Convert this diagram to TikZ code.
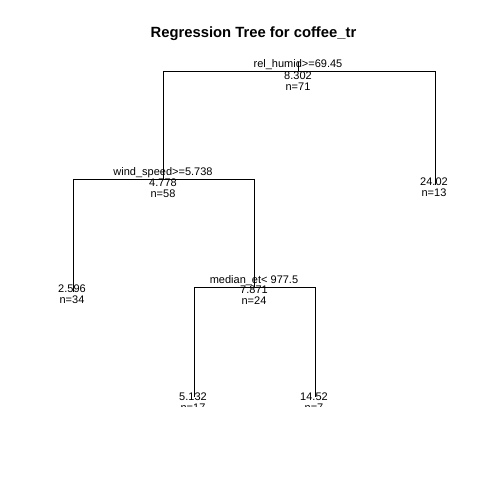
\documentclass[tikz,border=0pt]{standalone}
\usepackage{fontspec}
\setmainfont{Liberation Sans}
\begin{document}
\begin{tikzpicture}[x=1pt,y=-1pt,
  edge/.style={line width=0.8pt, draw=black},
  lbl/.style={anchor=base, inner sep=0pt, font=\fontsize{11}{11}\selectfont, text=black},
  ttl/.style={anchor=base, inner sep=0pt, font=\bfseries\fontsize{14.8}{14.8}\selectfont, text=black}]
\fill[white] (0,0) rectangle (480,480);
\useasboundingbox (0,0) rectangle (480,480);
\node[ttl] (title) at (253.5,37) {Regression Tree for coffee\_tr};
% node positions
\coordinate (rootTop) at (298,62);
\coordinate (root) at (298,71);
\coordinate (wind) at (163,179);
\coordinate (rleaf) at (435,185);
\coordinate (median) at (254,287);
\coordinate (lleaf) at (73,292);
\coordinate (ml) at (194,397);
\coordinate (mr) at (315,397);
\begin{scope}
\clip (0,0) rectangle (480,406.5);
% branches
\draw[edge] (rootTop) -- (root);
\draw[edge] (wind) -- (wind |- root) -- (rleaf |- root) -- (rleaf);
\draw[edge] (lleaf) -- (lleaf |- wind) -- (median |- wind) -- (median);
\draw[edge] (ml) -- (ml |- median) -- (mr |- median) -- (mr);
% labels
\node[lbl] (rootS) at (298,67.5) {rel\_humid>=69.45};
\node[lbl] (rootV) at (298,79.5) {8.302};
\node[lbl] (rootN) at (298,90.5) {n=71};
\node[lbl] (windS) at (163,175.5) {wind\_speed>=5.738};
\node[lbl] (windV) at (163,186) {4.778};
\node[lbl] (windN) at (163,197) {n=58};
\node[lbl] (medS) at (254,283.5) {median\_et< 977.5};
\node[lbl] (medV) at (254,293) {7.871};
\node[lbl] (medN) at (254,304) {n=24};
\node[lbl] (rleafV) at (434,185) {24.02};
\node[lbl] (rleafN) at (434,196) {n=13};
\node[lbl] (lleafV) at (72,292) {2.596};
\node[lbl] (lleafN) at (72,303) {n=34};
\node[lbl] (mlV) at (193,400) {5.132};
\node[lbl] (mlN) at (193,411) {n=17};
\node[lbl] (mrV) at (314,400) {14.52};
\node[lbl] (mrN) at (314,411) {n=7};
\end{scope}
\end{tikzpicture}
\end{document}
